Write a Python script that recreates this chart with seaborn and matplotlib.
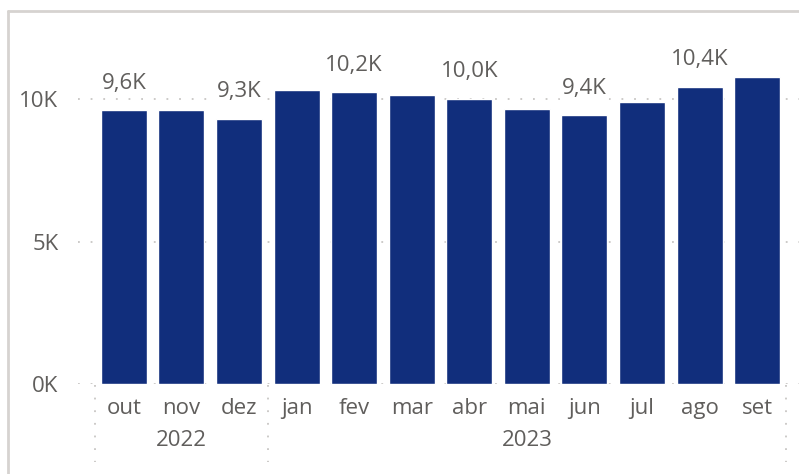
import matplotlib
matplotlib.use("Agg")
import matplotlib.pyplot as plt
import matplotlib.transforms as mtransforms
import seaborn as sns
import pandas as pd

months = ["out", "nov", "dez", "jan", "fev", "mar", "abr", "mai", "jun", "jul", "ago", "set"]
values = [9600, 9600, 9300, 10300, 10230, 10130, 10000, 9640, 9430, 9880, 10420, 10760]
label_months = ["out", "dez", "fev", "abr", "jun", "ago"]
years = ["2022", "2023"]
year_counts = [3, 9]
yticks = [0, 5000, 10000]
ytick_labels = ["0K", "5K", "10K"]

df = pd.DataFrame({"mes": months, "valor": values})

sns.set_theme(style="white")
plt.rcParams["font.family"] = ["Open Sans", "DejaVu Sans"]

W, H = 799, 474
fig = plt.figure(figsize=(W / 100, H / 100), dpi=100)
fig.patch.set_facecolor("white")

px_left, px_right, px_bottom, px_top = 78, 799, 384, 20
ax = fig.add_axes([px_left / W, (H - px_bottom) / H, (px_right - px_left) / W, (px_bottom - px_top) / H])

bar_color = "#112E7C"
text_color = "#605E5C"
grid_color = "#C8C6C4"
fs = 16

sns.barplot(data=df, x="mes", y="valor", color=bar_color, width=0.8, saturation=1, ax=ax, zorder=2)

# scale: 10K spans 285 px
per_px = 10000 / 285
ax.set_ylim(0, (px_bottom - px_top) * per_px)
step = 57.5
ax.set_xlim(-0.5 - (95 - px_left) / step, 11.5 + (px_right - 786) / step)

for s in ax.spines.values():
    s.set_visible(False)

ax.set_yticks(yticks)
ax.set_yticklabels(ytick_labels)
for y in yticks:
    ax.axhline(y, color=grid_color, linestyle=(0, (1, 6)), linewidth=1.3, zorder=1)

ax.tick_params(axis="y", length=0, pad=14, labelsize=fs, labelcolor=text_color)
ax.tick_params(axis="x", length=0, pad=10, labelsize=fs, labelcolor=text_color)
ax.set_xlabel("")
ax.set_ylabel("")

# data labels
for i, (m, v) in enumerate(zip(months, values)):
    if m in label_months:
        lbl = f"{v / 1000:.1f}K".replace(".", ",")
        ax.annotate(lbl, (i, v), xytext=(0, 12), textcoords="offset points",
                    ha="center", va="bottom", fontsize=fs, color=text_color,
                    bbox=dict(boxstyle="round,pad=0.1", fc="white", ec="none"), zorder=5)

# year separators and labels
trans = mtransforms.blended_transform_factory(ax.transData, fig.transFigure)
y0 = (H - 385) / H
y1 = (H - 462) / H
bounds = [-0.5]
for c in year_counts:
    bounds.append(bounds[-1] + c)
for b in bounds:
    ax.plot([b, b], [y0, y1], transform=trans, color=grid_color,
            linestyle=(0, (1, 6)), linewidth=1.3, clip_on=False)
for yr, a, b in zip(years, bounds[:-1], bounds[1:]):
    ax.text((a + b) / 2, (H - 441) / H, yr, transform=trans, ha="center", va="center",
            fontsize=fs, color=text_color)

# light frame (left and top)
fig.add_artist(plt.Line2D([7.5 / W, 7.5 / W], [0, (H - 11) / H], color="#D6D3D0", linewidth=2, transform=fig.transFigure))
fig.add_artist(plt.Line2D([7.5 / W, 1], [(H - 11) / H, (H - 11) / H], color="#D6D3D0", linewidth=2, transform=fig.transFigure))

fig.savefig("out.png", dpi=100)
